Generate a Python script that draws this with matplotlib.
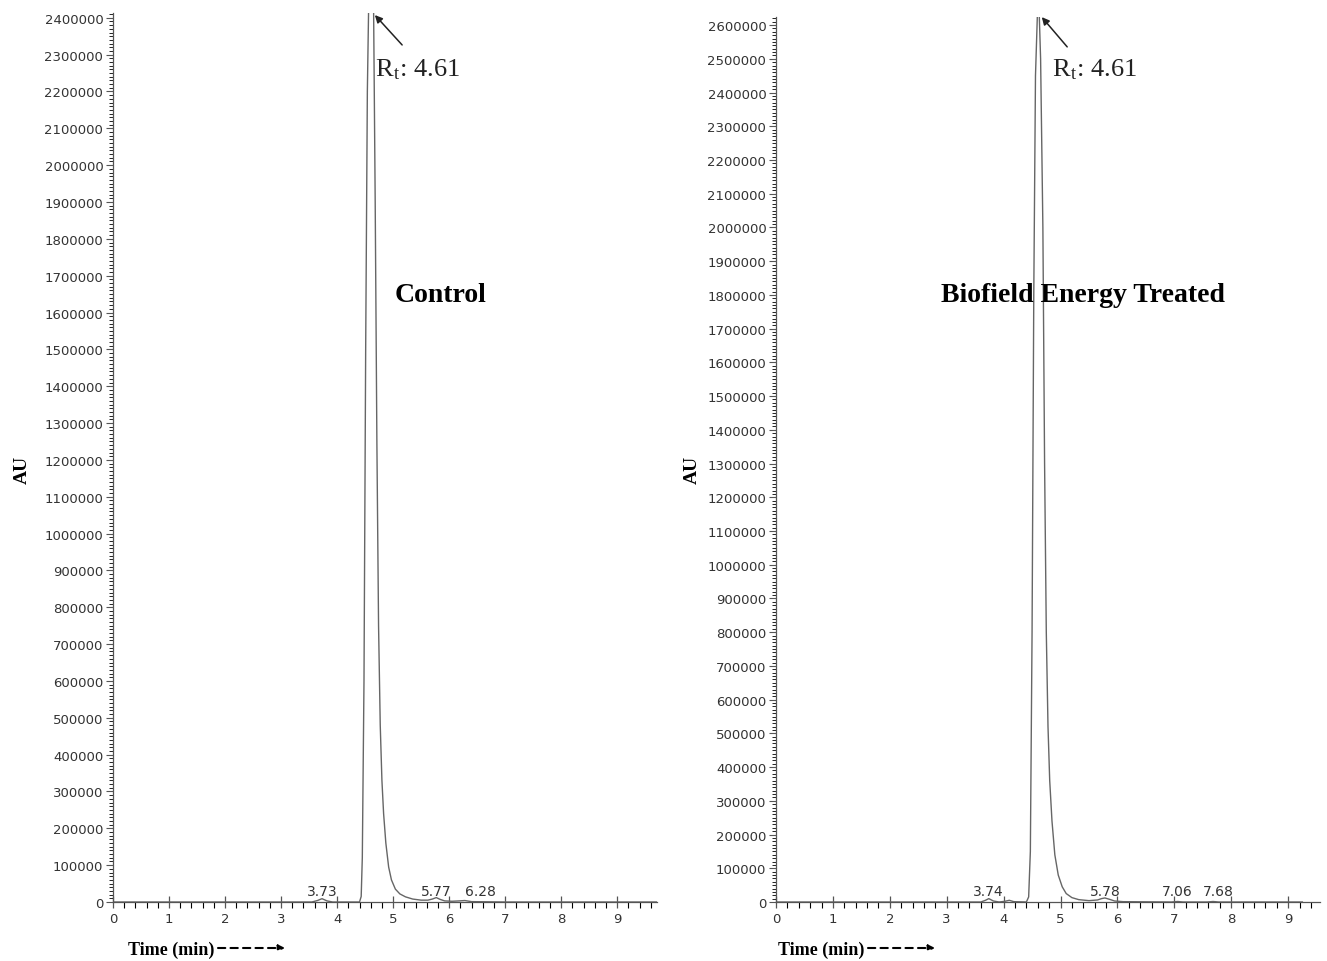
import numpy as np
import matplotlib
matplotlib.use("Agg")
import matplotlib.pyplot as plt
from matplotlib.ticker import MultipleLocator

# ---- data (time in min, response in AU) ----
control_time = [0.0, 3.55, 3.65, 3.73, 3.82, 3.92, 4.40, 4.43, 4.45, 4.48, 4.51, 4.54, 4.57,
                4.61, 4.65, 4.68, 4.71, 4.74, 4.77, 4.80, 4.83, 4.87, 4.92, 4.97, 5.04,
                5.12, 5.22, 5.35, 5.50, 5.62, 5.70, 5.77, 5.84, 5.92, 6.05, 6.18, 6.28,
                6.40, 7.00, 9.72]
control_au = [0, 0, 4000, 9000, 3000, 0, 0, 15000, 120000, 600000, 1500000, 2200000, 2500000,
              2560000, 2450000, 1900000, 1250000, 750000, 480000, 330000, 240000, 160000, 95000, 60000, 35000,
              22000, 14000, 8000, 5000, 5000, 8000, 12000, 7000, 3000, 2000, 3000, 4000,
              1000, 0, 0]

treated_time = [0.0, 3.60, 3.68, 3.74, 3.82, 3.92, 4.02, 4.10, 4.18, 4.40, 4.44, 4.47,
                4.50, 4.53, 4.56, 4.61, 4.65, 4.69, 4.72, 4.75, 4.78, 4.81, 4.85, 4.90,
                4.96, 5.03, 5.10, 5.20, 5.32, 5.50, 5.65, 5.72, 5.78, 5.86, 5.95, 6.10,
                6.95, 7.06, 7.15, 7.58, 7.68, 7.78, 9.25]
treated_au = [0, 0, 5000, 10000, 3000, 0, 2000, 5000, 1000, 0, 15000, 150000,
              800000, 1800000, 2450000, 2720000, 2500000, 2000000, 1300000, 800000, 520000, 360000, 240000, 140000,
              80000, 45000, 25000, 13000, 7000, 4000, 6000, 10000, 12000, 8000, 3000, 1000,
              0, 1500, 0, 0, 1500, 0, 0]

control_labels = ["3.73", "5.77", "6.28"]
treated_labels = ["3.74", "5.78", "7.06", "7.68"]

W, H = 1327, 962
fig = plt.figure(figsize=(W / 100, H / 100), dpi=100)
plt.rcParams['mathtext.fontset'] = 'stix'

serif = ['Liberation Serif', 'DejaVu Serif']
grey = '#555555'


def px(x0, y0, x1, y1):
    # pixel box -> figure fraction [left, bottom, width, height]
    return [x0 / W, 1 - y1 / H, (x1 - x0) / W, (y1 - y0) / H]


def setup_axis(ax, xmax, ymax, nmax):
    for s in ['top', 'right']:
        ax.spines[s].set_visible(False)
    for s in ['left', 'bottom']:
        ax.spines[s].set_color(grey)
        ax.spines[s].set_linewidth(0.9)
    ax.set_xlim(0, xmax)
    ax.set_ylim(0, ymax)
    ax.xaxis.set_major_locator(MultipleLocator(1))
    ax.xaxis.set_minor_locator(MultipleLocator(0.2))
    ticks = np.arange(0, nmax + 1, 100000)
    ax.set_yticks(ticks)
    ax.yaxis.set_minor_locator(MultipleLocator(10000))
    ax.set_yticklabels([str(int(v)) for v in ticks])
    ax.tick_params(axis='both', colors=grey, labelcolor='#333333', labelsize=9.5)
    ax.tick_params(axis='x', which='major', direction='inout', length=9, width=0.9, pad=3)
    ax.tick_params(axis='x', which='minor', direction='out', length=4, width=0.8)
    ax.tick_params(axis='y', which='major', length=5, width=0.8, pad=2)
    ax.tick_params(axis='y', which='minor', length=3, width=0.6)


def peak_labels(ax, labels, xs):
    # peak retention times written above the small peaks
    for lab, x in zip(labels, xs):
        ax.text(x, 11000, lab, ha='center', va='bottom', fontsize=10, color='#333333')


def rt_arrow(tip, tail, text_xy):
    fig.add_artist(matplotlib.patches.FancyArrowPatch(
        (tail[0] / W, 1 - tail[1] / H), (tip[0] / W, 1 - tip[1] / H),
        transform=fig.transFigure, arrowstyle='-|>', color='#222222', lw=1.1,
        mutation_scale=11))
    fig.text(text_xy[0] / W, 1 - text_xy[1] / H, r'R$_\mathregular{t}$: 4.61', fontsize=19,
             family=serif, ha='left', va='center', color='#222222')


# ---------------- Control ----------------
ax1 = fig.add_axes(px(113, 14, 657, 903))
setup_axis(ax1, 9.71, 2413000, 2400000)
ax1.plot(control_time, control_au, color='#666666', lw=1.0)
peak_labels(ax1, control_labels, [3.73, 5.77, 6.55])
rt_arrow((373, 14), (404, 48), (375, 70))
fig.text(441 / W, 1 - 296 / H, 'Control', fontsize=20, family=serif, weight='bold',
         ha='center', va='center')
fig.text(22 / W, 1 - 470 / H, 'AU', fontsize=14, family=serif, weight='bold',
         rotation=90, ha='center', va='center')

# ---------------- Biofield Energy Treated ----------------
ax2 = fig.add_axes(px(776, 18, 1320, 903))
setup_axis(ax2, 9.56, 2624000, 2600000)
ax2.plot(treated_time, treated_au, color='#666666', lw=1.0)
peak_labels(ax2, treated_labels, [3.73, 5.78, 7.06, 7.77])
rt_arrow((1040, 16), (1069, 50), (1052, 70))
fig.text(1083 / W, 1 - 295 / H, 'Biofield Energy Treated', fontsize=20, family=serif,
         weight='bold', ha='center', va='center')
fig.text(692 / W, 1 - 470 / H, 'AU', fontsize=14, family=serif, weight='bold',
         rotation=90, ha='center', va='center')

# ---------------- x-axis titles ----------------
for x0 in (128, 778):
    fig.text(x0 / W, 1 - 950 / H, 'Time (min)', fontsize=13, family=serif, weight='bold',
             ha='left', va='center')
    fig.add_artist(matplotlib.patches.FancyArrowPatch(
        ((x0 + 90) / W, 1 - 949 / H), ((x0 + 157) / W, 1 - 949 / H),
        transform=fig.transFigure, arrowstyle='-|>', linestyle=(0, (3.5, 2.5)),
        color='black', lw=1.5, mutation_scale=9, shrinkA=0, shrinkB=0))

fig.savefig('out.png', dpi=100)
